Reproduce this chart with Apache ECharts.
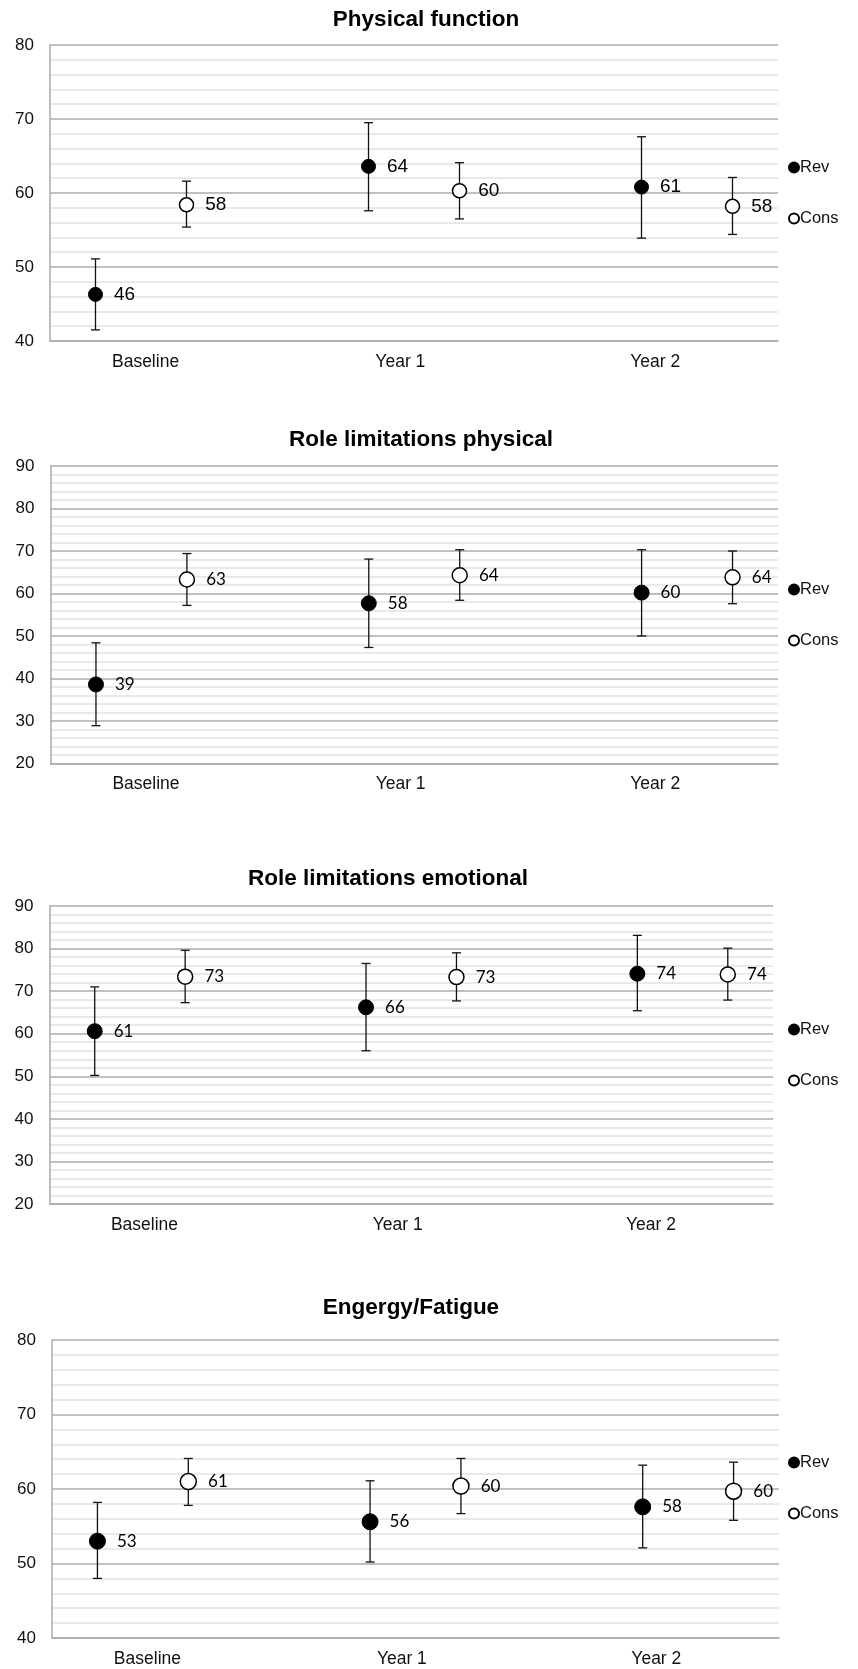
<!DOCTYPE html>
<html>
<head>
<meta charset="utf-8">
<script src="https://cdn.jsdelivr.net/npm/echarts@6/dist/echarts.min.js"></script>
<style>
html,body{margin:0;padding:0;background:#fff;}
#chart{width:858px;height:1669px;}
</style>
</head>
<body>
<div id="chart"></div>
<script>
// ---- data ----
const categories = ['Baseline', 'Year 1', 'Year 2'];
const titles = ['Physical function', 'Role limitations physical', 'Role limitations emotional', 'Engergy/Fatigue'];
const seriesNames = ['Rev', 'Cons'];

// Physical function
const pfRevMean = [46.3, 63.6, 60.8];
const pfRevLow = [41.5, 57.6, 53.9];
const pfRevHigh = [51.1, 69.5, 67.6];
const pfConsMean = [58.4, 60.3, 58.2];
const pfConsLow = [55.4, 56.5, 54.4];
const pfConsHigh = [61.6, 64.1, 62.1];

// Role limitations physical
const rpRevMean = [38.6, 57.7, 60.2];
const rpRevLow = [28.9, 47.3, 50.0];
const rpRevHigh = [48.4, 68.1, 70.3];
const rpConsMean = [63.3, 64.3, 63.8];
const rpConsLow = [57.2, 58.4, 57.6];
const rpConsHigh = [69.4, 70.3, 70.0];

// Role limitations emotional
const reRevMean = [60.6, 66.2, 74.1];
const reRevLow = [50.2, 56.0, 65.4];
const reRevHigh = [71.0, 76.5, 83.1];
const reConsMean = [73.4, 73.3, 73.9];
const reConsLow = [67.3, 67.7, 67.9];
const reConsHigh = [79.6, 79.0, 80.1];

// Energy / Fatigue
const efRevMean = [53.0, 55.6, 57.6];
const efRevLow = [48.0, 50.2, 52.1];
const efRevHigh = [58.2, 61.1, 63.2];
const efConsMean = [61.0, 60.4, 59.7];
const efConsLow = [57.8, 56.7, 55.8];
const efConsHigh = [64.1, 64.1, 63.6];

const yMin = [40, 20, 20, 40];
const yMax = [80, 90, 90, 80];

// ---- layout ----
const ARIAL = '"Liberation Sans", Arial, sans-serif';
const CALIB = 'Lato, "Open Sans", sans-serif';
const panels = [
  {rev:[pfRevMean,pfRevLow,pfRevHigh], cons:[pfConsMean,pfConsLow,pfConsHigh],
   grid:{left:50, top:45, width:728, height:296}, titleX:426, titleY:20, legendTop:159,
   labelFont:ARIAL, labelSize:19, sym:14},
  {rev:[rpRevMean,rpRevLow,rpRevHigh], cons:[rpConsMean,rpConsLow,rpConsHigh],
   grid:{left:50.5, top:466, width:727.5, height:297.5}, titleX:421, titleY:440, legendTop:581,
   labelFont:CALIB, labelSize:17, sym:15},
  {rev:[reRevMean,reRevLow,reRevHigh], cons:[reConsMean,reConsLow,reConsHigh],
   grid:{left:49.5, top:906, width:723.5, height:298}, titleX:388, titleY:879, legendTop:1021,
   labelFont:CALIB, labelSize:17, sym:15},
  {rev:[efRevMean,efRevLow,efRevHigh], cons:[efConsMean,efConsLow,efConsHigh],
   grid:{left:52, top:1340, width:727, height:298}, titleX:411, titleY:1308, legendTop:1454,
   labelFont:CALIB, labelSize:17, sym:16}
];

const labelPos = categories.map((c, i) => i * 2.8 + 1.05);

function errorBarItem(params, api) {
  const x = api.value(0);
  const pLo = api.coord([x, api.value(1)]);
  const pHi = api.coord([x, api.value(2)]);
  const hw = 4.5;
  const style = {stroke: '#111', lineWidth: 1.3};
  return {
    type: 'group',
    children: [
      {type: 'line', shape: {x1: pLo[0], y1: pLo[1], x2: pHi[0], y2: pHi[1]}, style: style},
      {type: 'line', shape: {x1: pLo[0] - hw, y1: pLo[1], x2: pLo[0] + hw, y2: pLo[1]}, style: style},
      {type: 'line', shape: {x1: pHi[0] - hw, y1: pHi[1], x2: pHi[0] + hw, y2: pHi[1]}, style: style}
    ]
  };
}

const grids = [], xAxes = [], yAxes = [], series = [], legends = [], graphics = [];

panels.forEach((p, k) => {
  grids.push(Object.assign({containLabel: false}, p.grid));
  xAxes.push({
    type: 'value', gridIndex: k, min: 0, max: 8,
    axisLine: {show: true, lineStyle: {color: '#ababab', width: 1.5}},
    axisTick: {show: false},
    splitLine: {show: false},
    axisLabel: {
      show: true, customValues: labelPos, margin: 12,
      fontFamily: ARIAL, fontSize: 17.5, color: '#111',
      formatter: v => categories[Math.round((v - 1.05) / 2.8)]
    }
  });
  yAxes.push({
    type: 'value', gridIndex: k, min: yMin[k], max: yMax[k], interval: 10,
    axisLine: {show: true, lineStyle: {color: '#ababab', width: 1.5}},
    axisTick: {show: false},
    axisLabel: {margin: 16, fontFamily: ARIAL, fontSize: 17, color: '#111'},
    splitLine: {show: true, lineStyle: {color: '#ababab', width: 1.5}},
    minorTick: {show: false, splitNumber: 5},
    minorSplitLine: {show: true, lineStyle: {color: '#e2e2e2', width: 1.5}}
  });

  const groups = [p.rev, p.cons];
  groups.forEach((g, s) => {
    const [mean, lo, hi] = g;
    const xs = categories.map((c, i) => i * 3 + 0.5 + s);
    series.push({
      type: 'custom', name: seriesNames[s] + '_err', xAxisIndex: k, yAxisIndex: k,
      renderItem: errorBarItem, z: 2, silent: true,
      data: xs.map((x, i) => [x, lo[i], hi[i]])
    });
    series.push({
      type: 'scatter', name: seriesNames[s], xAxisIndex: k, yAxisIndex: k, z: 3,
      symbol: 'circle', symbolSize: p.sym,
      itemStyle: s === 0
        ? {color: '#000', borderColor: '#000', borderWidth: 1, opacity: 1}
        : {color: '#fff', borderColor: '#000', borderWidth: 1.5, opacity: 1},
      label: {
        show: true, position: 'right', distance: 11,
        fontFamily: p.labelFont, fontSize: p.labelSize, color: '#000',
        formatter: d => String(Math.round(d.value[1]))
      },
      data: xs.map((x, i) => [x, mean[i]])
    });
  });

  legends.push({
    data: seriesNames, orient: 'vertical', left: 788, top: p.legendTop, padding: 0,
    icon: 'circle', itemWidth: 10, itemHeight: 10, itemGap: 34, selectedMode: false,
    textStyle: {fontFamily: ARIAL, fontSize: 16.5, color: '#111', padding: [0, 0, 0, -4]}
  });

  graphics.push({
    type: 'text', x: p.titleX, y: p.titleY,
    style: {
      text: titles[k], textAlign: 'center', textVerticalAlign: 'middle',
      font: 'bold 22.5px "Liberation Sans", Arial, sans-serif', fill: '#000'
    }
  });
});

const chart = echarts.init(document.getElementById('chart'), null, {renderer: 'canvas'});
chart.setOption({
  animation: false,
  backgroundColor: '#fff',
  grid: grids,
  xAxis: xAxes,
  yAxis: yAxes,
  legend: legends,
  graphic: graphics,
  series: series
});
</script>
</body>
</html>
